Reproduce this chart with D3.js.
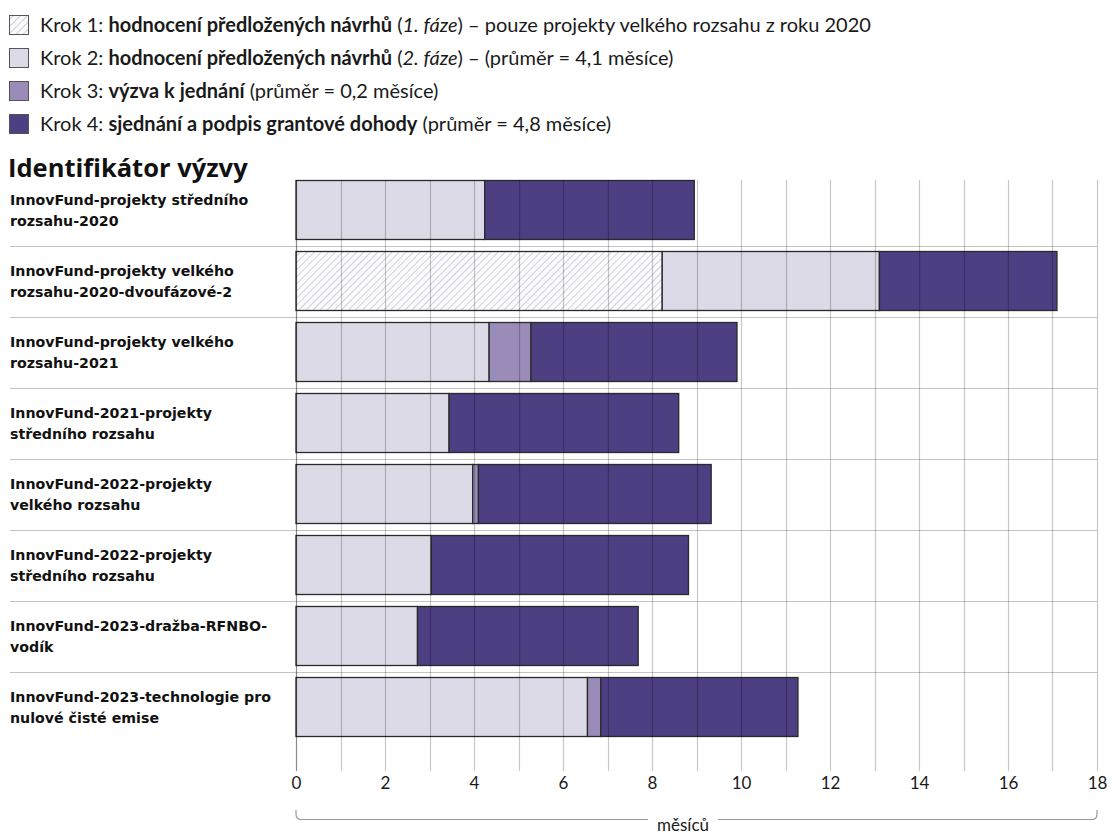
<!DOCTYPE html>
<html><head><meta charset="utf-8">
<script src="https://cdn.jsdelivr.net/npm/d3@7"></script>
<style>body{margin:0;background:#fff}svg{display:block}</style>
</head><body>
<svg id="c" width="1112" height="834"></svg>
<script>
const categories = [
  "InnovFund-projekty středního|rozsahu-2020",
  "InnovFund-projekty velkého|rozsahu-2020-dvoufázové-2",
  "InnovFund-projekty velkého|rozsahu-2021",
  "InnovFund-2021-projekty|středního rozsahu",
  "InnovFund-2022-projekty|velkého rozsahu",
  "InnovFund-2022-projekty|středního rozsahu",
  "InnovFund-2023-dražba-RFNBO-|vodík",
  "InnovFund-2023-technologie pro|nulové čisté emise"
];
const step1 = [0, 8.23, 0, 0, 0, 0, 0, 0];
const step2 = [4.24, 4.88, 4.34, 3.44, 3.97, 3.04, 2.73, 6.55];
const step3 = [0, 0, 0.94, 0, 0.13, 0, 0, 0.30];
const step4 = [4.71, 3.99, 4.63, 5.16, 5.23, 5.78, 4.96, 4.43];
const tickValues = [0, 2, 4, 6, 8, 10, 12, 14, 16, 18];
const axisTitle = "měsíců";
const chartTitle = "Identifikátor výzvy";
const legendItems = [
  [["Krok 1: ", "n"], ["hodnocení předložených návrhů", "b"], [" (", "n"], ["1. fáze", "i"], [") – pouze projekty velkého rozsahu z roku 2020", "n"]],
  [["Krok 2: ", "n"], ["hodnocení předložených návrhů", "b"], [" (", "n"], ["2. fáze", "i"], [") – (průměr = 4,1 měsíce)", "n"]],
  [["Krok 3: ", "n"], ["výzva k jednání", "b"], [" (průměr = 0,2 měsíce)", "n"]],
  [["Krok 4: ", "n"], ["sjednání a podpis grantové dohody", "b"], [" (průměr = 4,8 měsíce)", "n"]]
];

const colors = ["url(#hatch)", "#dcdae6", "#9a8bb8", "#4e3e82"];
const svg = d3.select("#c");
const defs = svg.append("defs");
const pat = defs.append("pattern").attr("id", "hatch").attr("patternUnits", "userSpaceOnUse")
  .attr("width", 5).attr("height", 5).attr("patternTransform", "rotate(45)");
pat.append("rect").attr("width", 5).attr("height", 5).attr("fill", "#fbfbfd");
pat.append("line").attr("x1", 0).attr("y1", 0).attr("x2", 0).attr("y2", 5)
  .attr("stroke", "#b9b7cd").attr("stroke-width", 1.3);

const x = d3.scaleLinear().domain([0, 18]).range([296, 1097]);
const y = d3.scaleBand().domain(categories).range([174.5, 742.5]).paddingInner(0.169).paddingOuter(0.0845);

// legend
const FONT = "Lato, 'Open Sans', sans-serif";
const lg = svg.append("g");
legendItems.forEach((parts, i) => {
  const cy = 25 + i * 33;
  lg.append("rect").attr("x", 9.5).attr("y", cy - 9.5).attr("width", 19).attr("height", 19)
    .attr("fill", colors[i]).attr("stroke", "#555").attr("stroke-width", 1);
  const t = lg.append("text").attr("x", 40).attr("y", cy + 6.5)
    .attr("font-family", FONT).attr("font-size", 20).attr("fill", "#1a1a1a");
  parts.forEach(p => {
    t.append("tspan").text(p[0])
      .attr("font-weight", p[1] === "b" ? "bold" : null)
      .attr("font-style", p[1] === "i" ? "italic" : null);
  });
});

// title
svg.append("text").attr("x", 8).attr("y", 177).attr("font-family", "'Open Sans', sans-serif")
  .attr("font-weight", "bold").attr("font-size", 25.5).attr("fill", "#111").text(chartTitle);

// row separators
const step = y.step();
categories.slice(1).forEach(c => {
  const yy = Math.round(y(c) - (step - y.bandwidth()) / 2) + 0.5;
  svg.append("line").attr("x1", 10).attr("x2", 1097).attr("y1", yy).attr("y2", yy)
    .attr("stroke", "#c4c4c4").attr("stroke-width", 1);
});

// bars
const series = [step1, step2, step3, step4];
const bars = svg.append("g");
categories.forEach((c, i) => {
  let acc = 0;
  series.forEach((s, k) => {
    const v = s[i];
    if (v > 0) {
      bars.append("rect").attr("x", x(acc)).attr("y", y(c)).attr("width", x(acc + v) - x(acc))
        .attr("height", y.bandwidth()).attr("fill", colors[k])
        .attr("stroke", "#2a2a2a").attr("stroke-width", 1.3);
      acc += v;
    }
  });
});

// vertical grid over bars
const grid = svg.append("g");
d3.range(0, 19).forEach(v => {
  grid.append("line").attr("x1", Math.round(x(v)) + 0.5).attr("x2", Math.round(x(v)) + 0.5)
    .attr("y1", 180).attr("y2", 771)
    .attr("stroke", v === 0 ? "rgba(0,0,0,0.45)" : "rgba(0,0,0,0.22)").attr("stroke-width", 1.2);
});

// labels
categories.forEach(c => {
  const lines = c.split("|");
  const cy = y(c) + y.bandwidth() / 2;
  const t = svg.append("text").attr("font-family", "'DejaVu Sans', sans-serif")
    .attr("font-weight", "bold").attr("font-size", 14.2).attr("fill", "#111");
  lines.forEach((l, j) => {
    t.append("tspan").attr("x", 10).attr("y", cy - 5 + j * 21).text(l);
  });
});

// axis
const ax = svg.append("g").attr("transform", "translate(0,771)")
  .call(d3.axisBottom(x).tickValues(tickValues).tickSize(0).tickPadding(6).tickFormat(d3.format("d")));
ax.select(".domain").remove();
ax.selectAll("text").attr("font-family", FONT).attr("font-size", 17).attr("fill", "#1a1a1a");

// bracket
svg.append("path").attr("fill", "none").attr("stroke", "#9a9a9a").attr("stroke-width", 1.2)
  .attr("d", `M${x(0)},810 V814 Q${x(0)},819.5 ${x(0)+5},819.5 H648 M718,819.5 H${x(18)-5} Q${x(18)},819.5 ${x(18)},814 V810`);
svg.append("text").attr("x", 683).attr("y", 831).attr("text-anchor", "middle")
  .attr("font-family", FONT).attr("font-size", 17).attr("fill", "#1a1a1a").text(axisTitle);
</script>
</body></html>
